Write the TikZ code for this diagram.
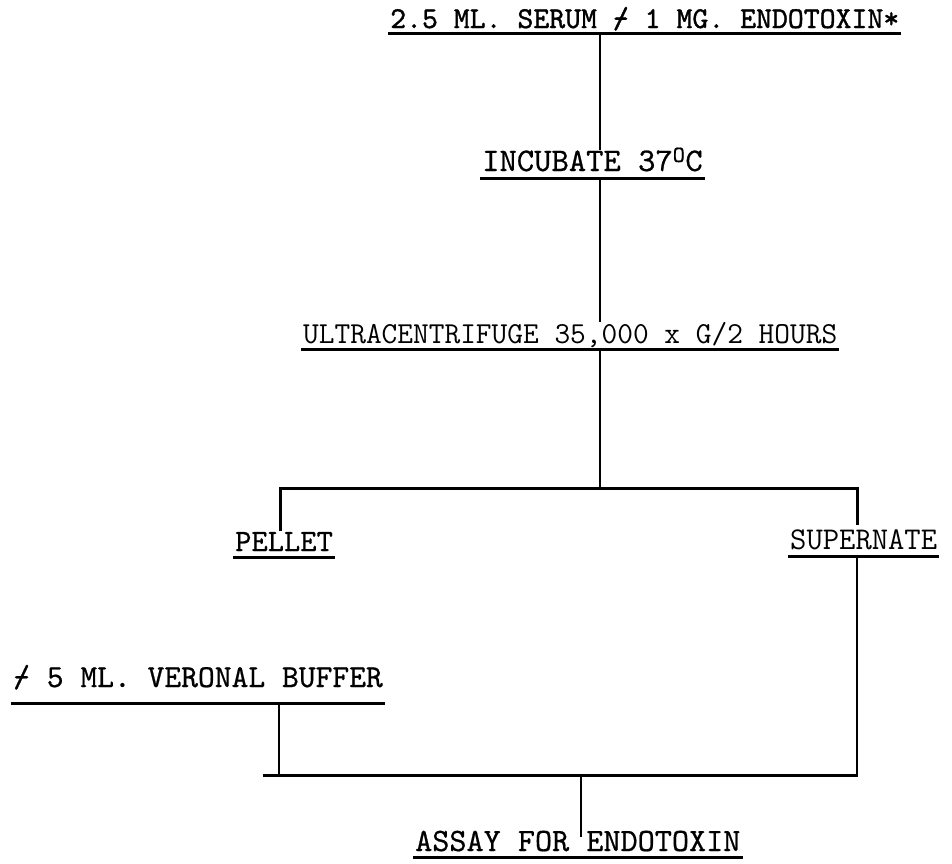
\documentclass[tikz,border=0pt]{standalone}
\usepackage{fontspec}
\newfontfamily\heavytt[FakeBold=1.2]{lmmono10-regular.otf}
\newfontfamily\midtt[FakeBold=0.6]{lmmono10-regular.otf}
\newcommand\plusover{\rlap{/}-}
\begin{document}
\begin{tikzpicture}[x=1pt,y=1pt,
  tw/.style={font=\fontsize{#1}{#1}\selectfont\ttfamily, inner sep=0pt, text depth=0pt, anchor=base west},
  hv/.style={font=\fontsize{#1}{#1}\selectfont\heavytt, inner sep=0pt, text depth=0pt, anchor=base west},
  md/.style={font=\fontsize{#1}{#1}\selectfont\midtt, inner sep=0pt, text depth=0pt, anchor=base west},
  uline/.style={line width=3pt},
  conn/.style={line width=2.4pt}]
\useasboundingbox (0,0) rectangle (952,-863);
% text nodes
\node[hv=30.3] (serum) at (390,-28) {2.5 ML. SERUM \plusover{} 1 MG. ENDOTOXIN*};
\node[md=33] (incub) at (482,-171) {INCUBATE 37\textsuperscript{O}C};
\node[tw=30.5] (ultra) at (303,-343) {ULTRACENTRIFUGE 35,000 x G/2 HOURS};
\node[md=31] (pellet) at (235,-551) {PELLET};
\node[tw=31.7] (super) at (790,-549) {SUPERNATE};
\node[md=32] (veronal) at (13,-687) {\plusover{} 5 ML. VERONAL BUFFER};
\node[md=32.6] (assay) at (415,-851) {ASSAY FOR ENDOTOXIN};
% underlines
\foreach \n/\d in {serum/5,incub/7,ultra/6,pellet/6,super/7,veronal/16,assay/6}{
  \draw[uline] ([xshift=-2pt,yshift=-\d pt]\n.base west) -- ([xshift=2pt,yshift=-\d pt]\n.base east);
}
% junctions
\coordinate (jA) at (600,-488);
\coordinate (jL) at (280,-488);
\coordinate (jR) at (857,-488);
\coordinate (kL) at (263,-775);
\coordinate (kR) at (857,-775);
\coordinate (kM) at (581,-775);
% connectors
\draw[conn] ([yshift=-5pt]jA |- serum.base) -- ([yshift=21pt]jA |- incub.base);
\draw[conn] ([yshift=-7pt]jA |- incub.base) -- ([yshift=21pt]jA |- ultra.base);
\draw[conn] ([yshift=-6pt]jA |- ultra.base) -- (jA);
\draw[uline,line cap=rect] ([yshift=22pt]jL |- pellet.base) -- (jL) -- (jR) -- ([yshift=26pt]jR |- super.base);
\draw[conn] ([yshift=-7pt]kR |- super.base) -- (kR);
\draw[conn] ([yshift=-16pt,xshift=16pt]kL |- veronal.base) -- ([xshift=16pt]kL);
\draw[uline] (kL) -- ([xshift=1pt]kR);
\draw[conn] (kM) -- ([yshift=14pt]kM |- assay.base);
\end{tikzpicture}
\end{document}
